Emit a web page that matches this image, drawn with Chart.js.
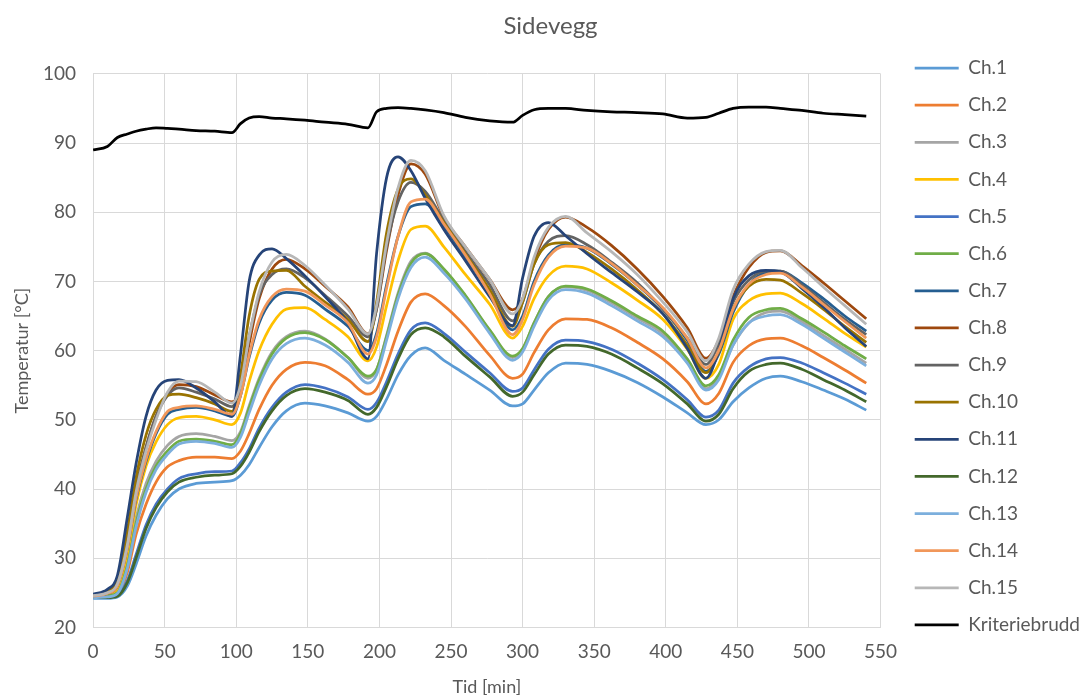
<!DOCTYPE html>
<html>
<head>
<meta charset="utf-8">
<script src="https://cdn.jsdelivr.net/npm/chart.js@4.4.1/dist/chart.umd.min.js"></script>
<style>
  html, body { margin: 0; padding: 0; background: #fff; }
  #wrap { width: 1090px; height: 700px; }
</style>
</head>
<body>
<div id="wrap"><canvas id="chart" width="1090" height="700"></canvas></div>
<script>
// time axis (minutes)
const times = [0, 10, 17, 24, 30, 37, 44, 52, 60, 72, 85, 97, 103, 109, 116, 125, 135, 148, 162, 178,
  192, 198, 205, 213, 222, 232, 245, 260, 277, 293, 300, 308, 318, 330, 345, 362, 380, 398, 415,
  428, 437, 447, 458, 470, 480, 495, 510, 525, 540];

const ch1 = [24.2, 24.2, 24.4, 26.0, 29.1, 33.2, 36.2, 38.6, 40.0, 40.8, 41.0, 41.2, 42.0, 43.5, 46.0, 49.0, 51.3, 52.4, 52.0, 51.0,
  49.8, 50.5, 53.0, 56.5, 59.3, 60.4, 58.6, 56.6, 54.3, 52.0, 52.3, 54.3, 56.8, 58.2, 58.0, 57.0, 55.4, 53.3, 51.0,
  49.3, 50.0, 52.6, 54.6, 56.0, 56.3, 55.5, 54.3, 53.0, 51.4];
const ch2 = [24.5, 24.6, 24.9, 28.0, 33.4, 37.8, 41.0, 43.2, 44.1, 44.6, 44.6, 44.4, 45.5, 48.0, 51.5, 55.0, 57.3, 58.3, 57.8, 55.8,
  53.7, 54.5, 58.0, 62.8, 67.0, 68.2, 66.5, 63.5, 59.3, 56.0, 56.6, 59.7, 63.0, 64.6, 64.5, 63.3, 61.2, 58.8, 55.5,
  52.3, 53.8, 58.3, 60.7, 61.7, 61.8, 60.7, 59.0, 57.2, 55.3];
const ch3 = [24.5, 24.6, 25.3, 29.5, 35.8, 40.8, 44.0, 46.3, 47.6, 48.0, 47.6, 47.0, 48.3, 52.0, 56.0, 59.8, 62.0, 62.8, 61.7, 59.0,
  56.0, 57.2, 62.2, 68.3, 72.9, 74.1, 71.7, 67.9, 62.9, 59.0, 60.2, 64.0, 67.8, 69.2, 68.7, 66.9, 64.7, 62.4, 58.5,
  54.5, 56.2, 60.8, 64.0, 65.5, 65.7, 64.2, 62.2, 60.2, 58.2];
const ch4 = [24.5, 24.7, 25.5, 30.5, 37.7, 43.3, 46.8, 49.3, 50.3, 50.5, 50.0, 49.3, 51.0, 55.5, 60.0, 63.8, 66.0, 66.2, 64.5, 62.0,
  58.5, 60.5, 66.5, 73.0, 77.5, 78.0, 75.0, 71.0, 66.7, 61.8, 63.5, 67.5, 70.8, 72.2, 71.8, 69.8, 67.3, 64.5, 60.2,
  56.0, 58.0, 64.5, 67.2, 68.2, 68.3, 66.8, 64.7, 62.5, 60.5];
const ch5 = [24.5, 24.5, 24.7, 26.8, 30.5, 34.8, 37.8, 40.0, 41.5, 42.2, 42.5, 42.6, 43.8, 45.8, 48.8, 51.8, 54.0, 55.1, 54.6, 53.3,
  51.5, 52.5, 55.5, 59.5, 63.0, 64.0, 62.5, 59.8, 56.8, 54.1, 54.6, 57.2, 60.2, 61.5, 61.3, 60.2, 58.2, 55.8, 52.9,
  50.4, 51.4, 55.3, 57.6, 58.8, 59.0, 58.2, 56.8, 55.3, 53.7];
const ch6 = [24.5, 24.6, 25.0, 29.0, 35.0, 40.0, 43.3, 45.5, 46.9, 47.2, 46.9, 46.4, 48.0, 51.7, 55.7, 59.5, 61.8, 62.6, 61.6, 59.0,
  56.3, 57.3, 62.0, 68.0, 72.6, 74.0, 71.8, 68.0, 63.0, 59.2, 60.3, 64.0, 67.8, 69.3, 68.9, 67.2, 65.0, 62.8, 58.8,
  54.9, 56.5, 61.5, 64.8, 65.9, 66.1, 64.6, 62.7, 60.7, 58.8];
const ch7 = [24.5, 24.9, 26.0, 31.5, 38.5, 44.0, 48.0, 50.8, 51.5, 51.8, 51.3, 50.5, 53.5, 59.0, 64.0, 67.3, 68.4, 68.0, 66.0, 63.5,
  60.0, 62.5, 69.5, 76.5, 80.8, 81.2, 78.0, 73.5, 68.5, 63.0, 65.0, 70.0, 73.8, 75.3, 74.8, 72.5, 69.5, 66.0, 61.5,
  57.0, 59.5, 65.5, 69.5, 71.3, 71.5, 69.8, 67.5, 65.0, 62.8];
const ch8 = [24.6, 25.0, 26.5, 32.5, 40.0, 46.0, 50.5, 53.8, 55.1, 54.8, 53.6, 52.6, 54.5, 61.0, 67.5, 71.8, 73.2, 71.8, 69.3, 66.3,
  62.4, 66.0, 74.5, 82.5, 87.0, 85.5, 79.3, 75.0, 70.3, 65.9, 67.5, 73.0, 77.5, 79.3, 77.8, 75.2, 71.8, 67.8, 63.3,
  58.9, 61.5, 67.8, 72.0, 74.2, 74.4, 72.3, 69.8, 67.2, 64.6];
const ch9 = [24.6, 25.0, 26.5, 32.5, 40.0, 46.0, 50.5, 53.5, 54.6, 54.0, 53.0, 51.9, 55.0, 62.0, 68.0, 71.0, 71.8, 70.5, 68.0, 65.0,
  62.0, 66.0, 75.0, 81.5, 84.3, 83.0, 78.8, 74.3, 69.5, 64.3, 67.0, 72.5, 75.8, 76.6, 75.3, 72.8, 69.8, 66.0, 61.8,
  58.0, 61.0, 67.0, 70.2, 71.5, 71.5, 69.5, 67.0, 64.5, 62.3];
const ch10 = [24.6, 25.2, 27.0, 34.0, 41.6, 47.8, 51.5, 53.5, 53.7, 53.2, 52.3, 51.2, 56.5, 65.0, 70.3, 71.5, 71.6, 69.3, 67.0, 64.5,
  61.3, 67.0, 77.0, 83.3, 84.8, 82.5, 78.5, 74.0, 68.8, 63.5, 67.0, 72.5, 75.3, 75.6, 74.2, 71.8, 68.8, 65.3, 60.8,
  56.8, 59.8, 66.0, 69.3, 70.3, 70.2, 68.3, 66.0, 63.5, 61.2];
const ch11 = [24.8, 25.5, 27.5, 36.0, 43.6, 50.5, 54.3, 55.7, 55.8, 54.6, 52.6, 50.5, 59.5, 70.0, 73.8, 74.7, 73.3, 70.8, 67.8, 64.0,
  58.8, 74.0, 85.0, 88.0, 86.0, 82.0, 77.5, 73.0, 67.8, 63.6, 70.5, 76.5, 78.5, 76.6, 74.0, 71.3, 68.5, 65.3, 60.3,
  56.0, 60.0, 67.5, 70.8, 71.6, 71.4, 69.0, 66.3, 63.3, 60.6];
const ch12 = [24.3, 24.3, 24.5, 26.5, 30.0, 34.3, 37.3, 39.6, 41.0, 41.7, 42.0, 42.2, 43.3, 45.3, 48.3, 51.3, 53.5, 54.5, 54.0, 52.8,
  50.8, 51.8, 54.8, 58.8, 62.3, 63.3, 62.0, 59.2, 56.2, 53.4, 54.0, 56.5, 59.5, 60.8, 60.6, 59.5, 57.5, 55.2, 52.3,
  49.8, 50.8, 54.5, 57.0, 58.0, 58.2, 57.3, 55.8, 54.3, 52.6];
const ch13 = [24.3, 24.4, 24.9, 28.6, 34.5, 39.5, 42.8, 45.0, 46.5, 46.9, 46.6, 46.0, 47.5, 51.0, 55.0, 58.8, 61.0, 61.8, 60.8, 58.3,
  55.3, 56.5, 61.5, 67.5, 72.0, 73.5, 71.2, 67.5, 62.5, 58.6, 59.8, 63.5, 67.3, 68.8, 68.3, 66.5, 64.3, 62.0, 58.2,
  54.3, 55.8, 60.8, 64.0, 65.0, 65.2, 63.8, 61.8, 59.8, 57.8];
const ch14 = [24.5, 24.9, 26.0, 31.5, 38.7, 44.3, 48.3, 51.2, 51.8, 52.0, 51.5, 50.8, 53.5, 59.3, 64.5, 67.8, 68.9, 68.6, 66.6, 64.0,
  59.5, 62.0, 69.0, 76.5, 81.5, 81.9, 78.3, 73.8, 68.2, 62.3, 64.5, 69.5, 73.5, 75.1, 74.8, 72.6, 69.5, 66.2, 61.8,
  57.5, 60.0, 66.0, 69.6, 71.0, 71.2, 69.2, 66.7, 64.2, 61.8];
const ch15 = [24.6, 25.0, 26.3, 32.0, 39.5, 45.5, 50.0, 54.0, 55.6, 55.5, 54.0, 52.4, 55.0, 62.0, 68.5, 72.8, 73.9, 72.3, 69.5, 66.0,
  62.4, 66.5, 75.5, 83.5, 87.5, 86.0, 79.5, 75.0, 70.3, 65.3, 67.5, 73.5, 77.8, 79.4, 77.0, 74.3, 71.0, 67.0, 62.7,
  58.5, 61.8, 68.8, 72.5, 74.3, 74.5, 72.0, 69.2, 66.5, 63.8];
const kriteriebrudd = [89.0, 89.5, 90.8, 91.3, 91.7, 92.0, 92.2, 92.1, 92.0, 91.8, 91.7, 91.5, 92.8, 93.6, 93.8, 93.6, 93.5, 93.3, 93.0, 92.7,
  92.2, 94.5, 95.0, 95.1, 95.0, 94.8, 94.4, 93.7, 93.2, 93.0, 94.0, 94.8, 95.0, 95.0, 94.7, 94.5, 94.4, 94.2, 93.6,
  93.7, 94.3, 95.0, 95.2, 95.2, 95.0, 94.7, 94.3, 94.1, 93.9];

const seriesNames = ['Ch.1', 'Ch.2', 'Ch.3', 'Ch.4', 'Ch.5', 'Ch.6', 'Ch.7', 'Ch.8', 'Ch.9', 'Ch.10',
  'Ch.11', 'Ch.12', 'Ch.13', 'Ch.14', 'Ch.15', 'Kriteriebrudd'];
const seriesValues = [ch1, ch2, ch3, ch4, ch5, ch6, ch7, ch8, ch9, ch10, ch11, ch12, ch13, ch14, ch15, kriteriebrudd];
const seriesColors = ['#5B9BD5', '#ED7D31', '#A5A5A5', '#FFC000', '#4472C4', '#70AD47', '#255E91', '#9E480E',
  '#636363', '#997300', '#264478', '#43682B', '#7CAFDD', '#F1975A', '#B7B7B7', '#000000'];

const FONT = 'Lato, "Open Sans", sans-serif';
const TEXT = '#595959';
const GRID = '#d9d9d9';

const datasets = seriesNames.map((name, i) => ({
    label: name,
    data: times.map((t, j) => ({ x: t, y: seriesValues[i][j] })),
    borderColor: seriesColors[i],
    backgroundColor: seriesColors[i],
    borderWidth: 2.75,
    pointRadius: 0,
    cubicInterpolationMode: 'monotone',
    fill: false,
    // later series drawn on top, like the spreadsheet
    order: seriesNames.length - i
}));

new Chart(document.getElementById('chart'), {
    type: 'line',
    data: { datasets },
    options: {
        responsive: false,
        animation: false,
        layout: { padding: { left: 11, right: 0, top: 0, bottom: 7 } },
        plugins: {
            title: {
                display: true,
                text: 'Sidevegg',
                color: TEXT,
                font: { family: FONT, size: 24, weight: 'normal' },
                padding: { top: 12, bottom: 33 }
            },
            legend: {
                position: 'right',
                maxWidth: 300,
                labels: {
                    usePointStyle: true,
                    pointStyle: 'line',
                    pointStyleWidth: 44,
                    color: TEXT,
                    font: { family: FONT, size: 19 },
                    padding: 18.13,
                    sort: (a, b) => a.datasetIndex - b.datasetIndex
                }
            },
            tooltip: { enabled: false }
        },
        scales: {
            x: {
                type: 'linear',
                min: 0,
                max: 550,
                ticks: { stepSize: 50, color: TEXT, font: { family: FONT, size: 19 }, padding: 12.6 },
                grid: { color: GRID, lineWidth: 1, drawTicks: false },
                border: { color: GRID },
                title: {
                    display: true, text: 'Tid [min]', color: TEXT,
                    font: { family: FONT, size: 18, lineHeight: 0.6 },
                    padding: { top: 6.8, bottom: 0 }
                }
            },
            y: {
                min: 20,
                max: 100,
                ticks: { stepSize: 10, color: TEXT, font: { family: FONT, size: 19 }, padding: 17 },
                grid: { color: GRID, lineWidth: 1, drawTicks: false },
                border: { color: GRID },
                title: {
                    display: true, text: 'Temperatur [°C]', color: TEXT,
                    font: { family: FONT, size: 18 },
                    padding: { top: 0, bottom: -6.6 }
                }
            },
            // empty spacer between plot area and legend
            gap: {
                position: 'right',
                display: true,
                ticks: { display: false },
                grid: { display: false, drawTicks: false },
                border: { display: false },
                afterFit: (scale) => { scale.width = 16; }
            }
        }
    }
});
</script>
</body>
</html>
